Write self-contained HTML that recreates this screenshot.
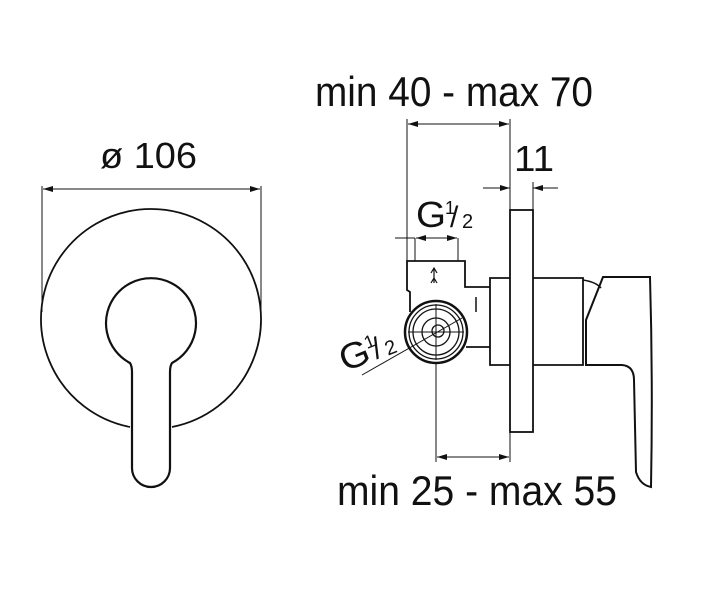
<!DOCTYPE html>
<html><head><meta charset="utf-8"><style>
html,body{margin:0;padding:0;background:#fff}
svg{display:block}
text{font-family:"Liberation Sans",sans-serif;fill:#111}
</style></head><body>
<svg width="702" height="596" viewBox="0 0 702 596" xmlns="http://www.w3.org/2000/svg">
<defs>
<marker id="a" viewBox="0 0 10 6" refX="10" refY="3" markerWidth="10" markerHeight="6" orient="auto-start-reverse" markerUnits="userSpaceOnUse"><path d="M0,0 L10,3 L0,6 Z" fill="#111"/></marker>
</defs>
<g stroke="#111" fill="none" stroke-width="1">
<!-- left view -->
<line x1="42" y1="186" x2="42" y2="312"/>
<line x1="261" y1="186" x2="261" y2="312"/>
<line x1="43" y1="189" x2="260" y2="189" marker-start="url(#a)" marker-end="url(#a)"/>
<path d="M130,427 A110,110 0 1 1 172,427" stroke-width="1.8"/>
<path d="M130,363 A45,45 0 1 1 172,363 Q170,366 170,372 L170,468 A19,19 0 0 1 132,468 L132,372 Q132,366 130,363 Z" stroke-width="2.2"/>
<!-- right view dims -->
<line x1="407" y1="119" x2="407" y2="261"/>
<line x1="510" y1="119" x2="510" y2="210"/>
<line x1="408" y1="124" x2="509" y2="124" marker-start="url(#a)" marker-end="url(#a)"/>
<line x1="533" y1="182" x2="533" y2="210"/>
<line x1="483" y1="188" x2="510" y2="188" marker-end="url(#a)"/>
<line x1="558" y1="188" x2="533" y2="188" marker-end="url(#a)"/>
<line x1="395" y1="238" x2="415" y2="238"/>
<line x1="415" y1="238" x2="415" y2="261"/>
<line x1="458" y1="238" x2="458" y2="261"/>
<line x1="416" y1="238" x2="457" y2="238" marker-start="url(#a)" marker-end="url(#a)"/>
<line x1="436" y1="362" x2="436" y2="462"/>
<line x1="510" y1="432" x2="510" y2="462"/>
<line x1="437" y1="457" x2="509" y2="457" marker-start="url(#a)" marker-end="url(#a)"/>
<!-- plate -->
<rect x="510" y="210" width="23" height="222" stroke-width="1.8"/>
<path d="M510,278 L490,278 L490,365 L510,365" stroke-width="1.8"/>
<path d="M533,278 L583,278 L583,365 L533,365" stroke-width="1.8"/>
<!-- valve body -->
<path d="M490,287 L465,287 L465,261 L407,261 L407,290 L410,292 L410,312" stroke-width="1.8"/>
<path d="M490,347 L466,347" stroke-width="1.8"/>
<line x1="476" y1="297" x2="476" y2="312" stroke-width="1.5"/>
<path d="M434,268 L434,283 M431,273 L434,268 L437,273 M431,283 L434,278 L437,283" stroke-width="1.2"/>
<circle cx="436" cy="332" r="31" stroke-width="2.5"/>
<circle cx="436" cy="332" r="27" stroke-width="1.3"/>
<circle cx="436" cy="332" r="23" stroke-width="1.3"/>
<circle cx="436" cy="332" r="14" stroke-width="1.3"/>
<circle cx="438" cy="331" r="6" stroke-width="1.3"/>
<line x1="436" y1="304" x2="436" y2="360"/>
<line x1="408" y1="332" x2="464" y2="332"/>
<line x1="362" y1="375" x2="462" y2="318"/>
<!-- handle -->
<path d="M583,280 Q596,282 601,288" stroke-width="1.5"/>
<path d="M603,277 L650,277 Q653,380 651,487 Q640,485 636,472 L634,380 Q634,366 622,365 L586,365 L586,320 Z" stroke-width="2"/>
</g>
<text x="100" y="168" font-size="36" textLength="97" lengthAdjust="spacingAndGlyphs">ø 106</text>
<text x="315" y="106" font-size="42" textLength="278" lengthAdjust="spacingAndGlyphs">min 40 - max 70</text>
<text x="514" y="171" font-size="36" textLength="40" lengthAdjust="spacingAndGlyphs">11</text>
<text x="416" y="227" font-size="36" textLength="30" lengthAdjust="spacingAndGlyphs">G</text>
<text x="445" y="214" font-size="18">1</text>
<text x="450" y="227" font-size="30">/</text>
<text x="462" y="228" font-size="20">2</text>
<g transform="translate(345,372) rotate(-22)">
<text x="0" y="0" font-size="36" textLength="30" lengthAdjust="spacingAndGlyphs">G</text>
<text x="29" y="-13" font-size="18">1</text>
<text x="34" y="0" font-size="30">/</text>
<text x="46" y="1" font-size="20">2</text>
</g>
<text x="337" y="505" font-size="42" textLength="280" lengthAdjust="spacingAndGlyphs">min 25 - max 55</text>
</svg>
</body></html>
